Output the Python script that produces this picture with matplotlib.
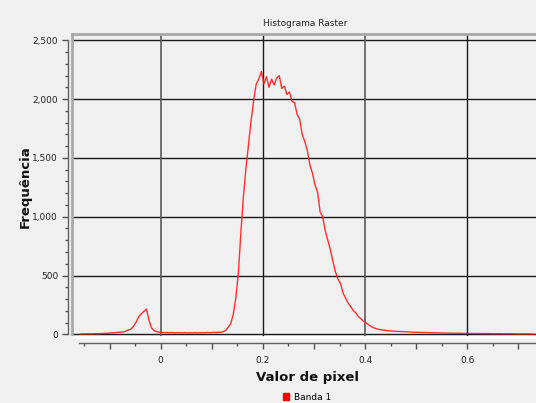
import numpy as np
import matplotlib
matplotlib.use("Agg")
import matplotlib.pyplot as plt
from matplotlib.patches import Patch
from matplotlib.ticker import FuncFormatter, MultipleLocator

# histogram bins (pixel value) and counts
bin_start = -0.158
bin_step = 0.005
counts = [
    2, 3, 3, 4, 3, 4, 5, 5, 6, 7,
    8, 9, 12, 13, 15, 17, 18, 20, 28, 35,
    45, 70, 105, 150, 175, 195, 215, 120, 55, 30,
    22, 18, 15, 14, 16, 13, 15, 12, 14, 13,
    12, 14, 11, 13, 12, 14, 12, 13, 14, 13,
    15, 14, 16, 15, 17, 18, 22, 32, 60, 90,
    170, 310, 520, 870, 1180, 1420, 1620, 1820, 1990, 2130,
    2170, 2235, 2130, 2190, 2100, 2170, 2120, 2180, 2200, 2090,
    2110, 2040, 2060, 1980, 1970, 1870, 1830, 1700, 1640, 1560,
    1440, 1370, 1270, 1210, 1040, 1000, 880, 800, 720, 620,
    530, 470, 430, 350, 305, 265, 235, 200, 182, 150,
    132, 110, 96, 80, 66, 55, 48, 42, 38, 35,
    32, 30, 28, 26, 25, 24, 23, 22, 21, 20,
    18, 17, 17, 16, 15, 15, 14, 14, 13, 13,
    12, 12, 11, 11, 10, 10, 10, 9, 9, 9,
    8, 8, 8, 7, 7, 7, 7, 6, 6, 6,
    6, 5, 5, 5, 5, 5, 4, 4, 4, 4,
    4, 3, 3, 3, 3, 3, 3, 2, 2,
]
pixel_values = bin_start + bin_step * np.arange(len(counts))

x_grid = [0.0, 0.2, 0.4, 0.6]
x_labels = [0.0, 0.2, 0.4, 0.6]
y_grid = [0, 500, 1000, 1500, 2000, 2500]

bg = "#f0f0f0"
fig = plt.figure(figsize=(5.36, 4.03), dpi=100, facecolor=bg)
ax = fig.add_axes([72 / 536, 1 - 337 / 403, 1 - 72 / 536, (337 - 33.5) / 403])
ax.set_facecolor(bg)

ax.set_xlim(-0.1736, 0.7345)
ax.set_ylim(-23, 2558)

# grid
for v in y_grid:
    ax.axhline(v, color="#1a1a1a", lw=1, zorder=1)
for v in x_grid:
    if v in (0.0, 0.4):
        ax.axvline(v, color="#5a5a5a", lw=1.2, zorder=1)
    else:
        ax.axvline(v, color="#1a1a1a", lw=1, zorder=1)

ax.plot(pixel_values, counts, color="#ff1a1a", lw=1.0, alpha=0.9, zorder=3)

# canvas frame (sunken look)
ax.plot([0, 0], [0, 1], transform=ax.transAxes, color="#a8a8a8", lw=2, clip_on=False, zorder=4)
ax.plot([0, 1], [1, 1], transform=ax.transAxes, color="#a8a8a8", lw=2, clip_on=False, zorder=4)
ax.plot([0, 1], [0, 0], transform=ax.transAxes, color="white", lw=2, clip_on=False, zorder=4)

for s in ["top", "right"]:
    ax.spines[s].set_visible(False)
ax.spines["left"].set_position(("outward", 3))
ax.spines["left"].set_bounds(0, 2500)
ax.spines["bottom"].set_position(("outward", 4.5))
ax.spines["bottom"].set_bounds(-0.159, 0.7345)
for s in ["left", "bottom"]:
    ax.spines[s].set_color("#606060")
    ax.spines[s].set_linewidth(1)

ax.yaxis.set_major_locator(MultipleLocator(500))
ax.yaxis.set_minor_locator(MultipleLocator(100))
ax.yaxis.set_major_formatter(FuncFormatter(lambda v, p: f"{v:,.0f}"))
ax.xaxis.set_major_locator(MultipleLocator(0.1))
ax.xaxis.set_minor_locator(MultipleLocator(0.05))


def xfmt(v, p):
    for lab in x_labels:
        if abs(v - lab) < 1e-6:
            return "0" if lab == 0 else f"{lab:g}"
    return ""


ax.xaxis.set_major_formatter(FuncFormatter(xfmt))
ax.tick_params(axis="both", which="major", length=4, width=1, color="#505050",
               labelsize=6.5, labelcolor="#222222", pad=3)
ax.tick_params(axis="both", which="minor", length=2.2, width=1, color="#505050")
ax.tick_params(axis="x", which="major", pad=5)

fig.text(305 / 536, 1 - 23 / 403, "Histograma Raster", ha="center", va="center",
         fontsize=6.5, color="#222222")
fig.text(25 / 536, 1 - 187 / 403, "Frequência", rotation=90, ha="center", va="center",
         fontsize=9.5, fontweight="bold", color="#111111")
fig.text(307 / 536, 1 - 378 / 403, "Valor de pixel", ha="center", va="center",
         fontsize=9.5, fontweight="bold", color="#111111")

fig.legend(handles=[Patch(color="#ff0000", label="Banda 1")], loc="center",
           bbox_to_anchor=(307 / 536, 1 - 397 / 403), frameon=False, fontsize=6.5,
           handlelength=0.7, handleheight=0.7, handletextpad=0.5, borderpad=0)

fig.savefig("out.png", dpi=100, facecolor=bg)
